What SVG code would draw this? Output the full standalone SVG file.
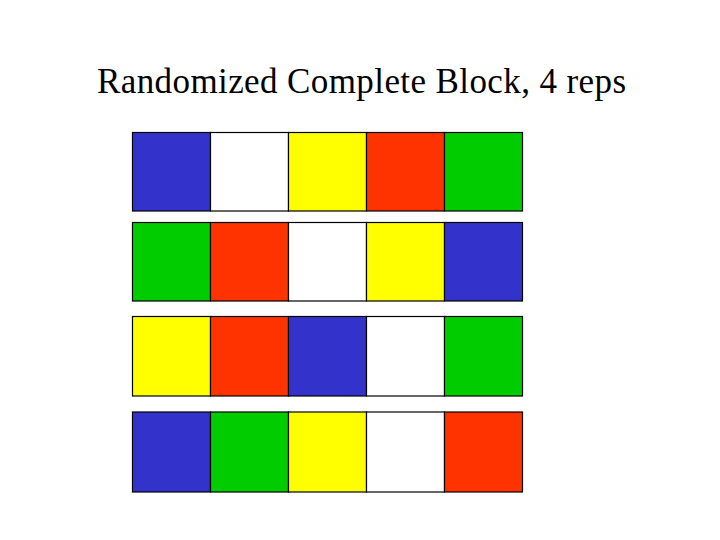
<svg xmlns="http://www.w3.org/2000/svg" width="720" height="540" viewBox="0 0 720 540">
<style>
rect{stroke:#000;stroke-width:1.2}
.b{fill:#3333CC}.w{fill:#FFFFFF}.y{fill:#FFFF00}.r{fill:#FF3300}.g{fill:#00CC00}
text{font-family:"Liberation Serif","Times New Roman",serif;font-size:35px;fill:#000}
</style>
<rect x="0" y="0" width="720" height="540" style="fill:#fff;stroke:none"/>
<text x="97" y="93" textLength="529" lengthAdjust="spacing">Randomized Complete Block, 4 reps</text>
<g id="rep1">
<rect class="b" x="132.5" y="132.5" width="78" height="78.5"/>
<rect class="w" x="210.5" y="132.5" width="78" height="78.5"/>
<rect class="y" x="288.5" y="132.5" width="78" height="78.5"/>
<rect class="r" x="366.5" y="132.5" width="78" height="78.5"/>
<rect class="g" x="444.5" y="132.5" width="78" height="78.5"/>
</g>
<g id="rep2">
<rect class="g" x="132.5" y="222.5" width="78" height="78.5"/>
<rect class="r" x="210.5" y="222.5" width="78" height="78.5"/>
<rect class="w" x="288.5" y="222.5" width="78" height="78.5"/>
<rect class="y" x="366.5" y="222.5" width="78" height="78.5"/>
<rect class="b" x="444.5" y="222.5" width="78" height="78.5"/>
</g>
<g id="rep3">
<rect class="y" x="132.5" y="316.5" width="78" height="79.5"/>
<rect class="r" x="210.5" y="316.5" width="78" height="79.5"/>
<rect class="b" x="288.5" y="316.5" width="78" height="79.5"/>
<rect class="w" x="366.5" y="316.5" width="78" height="79.5"/>
<rect class="g" x="444.5" y="316.5" width="78" height="79.5"/>
</g>
<g id="rep4">
<rect class="b" x="132.5" y="412" width="78" height="80"/>
<rect class="g" x="210.5" y="412" width="78" height="80"/>
<rect class="y" x="288.5" y="412" width="78" height="80"/>
<rect class="w" x="366.5" y="412" width="78" height="80"/>
<rect class="r" x="444.5" y="412" width="78" height="80"/>
</g>
</svg>
